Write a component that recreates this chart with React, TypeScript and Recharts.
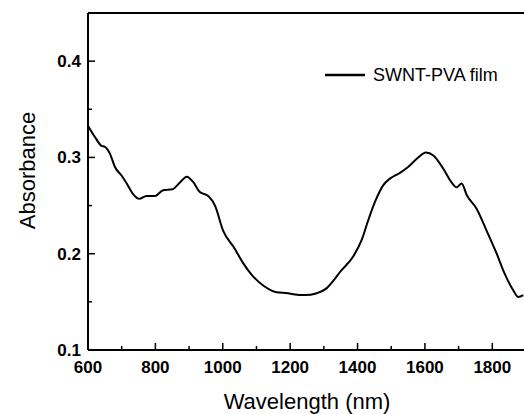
import React from 'react';
import { LineChart, Line, XAxis, YAxis, ReferenceLine } from 'recharts';

const wavelengths = [600,621,640,650,665,680,700,715,734,752,774,799,823,851,873,893,913,932,957,977,1001,1036,1061,1086,1120,1160,1194,1209,1244,1279,1308,1333,1348,1387,1412,1432,1452,1476,1496,1526,1550,1580,1603,1625,1655,1679,1694,1709,1724,1753,1783,1813,1837,1862,1877,1892];
const absorbance = [0.333,0.321,0.312,0.311,0.304,0.290,0.281,0.273,0.262,0.257,0.260,0.260,0.266,0.267,0.274,0.280,0.274,0.264,0.260,0.250,0.224,0.205,0.190,0.178,0.167,0.160,0.159,0.158,0.157,0.159,0.164,0.174,0.181,0.197,0.214,0.235,0.254,0.271,0.278,0.284,0.290,0.300,0.305,0.302,0.288,0.274,0.269,0.273,0.261,0.247,0.224,0.200,0.179,0.162,0.155,0.157];

const xTicks = [600,700,800,900,1000,1100,1200,1300,1400,1500,1600,1700,1800,1900];
const xMajor = [600,800,1000,1200,1400,1600,1800];
const yTicks = [0.1,0.15,0.2,0.25,0.3,0.35,0.4,0.45];
const yMajorLabels = ['0.1','0.2','0.3','0.4'];
const seriesName = 'SWNT-PVA film';

const data = wavelengths.map((w, i) => ({ w, a: absorbance[i] }));

const FONT = '"Liberation Sans", Arial, sans-serif';

const XTick = (props: any) => {
  const { x, y, payload } = props;
  const major = xMajor.includes(payload.value);
  return (
    <g>
      <line x1={x} x2={x} y1={y} y2={y - (major ? 7 : 4)} stroke="#000" strokeWidth={1.5} />
      {major && (
        <text x={x} y={y + 22.5} textAnchor="middle" fontFamily={FONT} fontWeight="bold" fontSize={17} fill="#000">
          {payload.value}
        </text>
      )}
    </g>
  );
};

const YTick = (props: any) => {
  const { x, y, payload } = props;
  const label = (Math.round(payload.value * 100) / 100).toString();
  const major = yMajorLabels.includes(label);
  return (
    <g>
      <line x1={x} x2={x + (major ? 7 : 4)} y1={y} y2={y} stroke="#000" strokeWidth={1.5} />
      {major && (
        <text x={x - 7} y={y + 6} textAnchor="end" fontFamily={FONT} fontWeight="bold" fontSize={17} fill="#000">
          {label}
        </text>
      )}
    </g>
  );
};

const XTitle = (props: any) => {
  const vb = props.viewBox;
  return (
    <text x={vb.x + vb.width / 2} y={vb.y + 58.5} textAnchor="middle" fontFamily={FONT} fontSize={22} fill="#000">
      Wavelength (nm)
    </text>
  );
};

const YTitle = (props: any) => {
  const vb = props.viewBox;
  const cx = 27;
  const cy = vb.y + vb.height / 2 - 11;
  return (
    <text x={cx} y={cy} transform={`rotate(-90, ${cx}, ${cy})`} textAnchor="middle" fontFamily={FONT} fontSize={22} fill="#000">
      Absorbance
    </text>
  );
};

export default function App() {
  return (
    <div
      style={{
        width: 524,
        height: 414,
        paddingLeft: 8,
        paddingTop: 8,
        boxSizing: 'border-box',
        overflow: 'hidden',
        position: 'relative',
        background: '#fff',
      }}
    >
      <style>{'body{margin:0}'}</style>
      <LineChart width={520} height={406} data={data} margin={{ top: 5, right: 2, bottom: 4, left: 0 }}>
        <XAxis
          dataKey="w"
          type="number"
          domain={[600, 1900]}
          ticks={xTicks}
          interval={0}
          allowDataOverflow
          height={60}
          tickSize={0}
          tickMargin={0}
          tick={<XTick />}
          axisLine={{ stroke: '#000', strokeWidth: 2 }}
          tickLine={false}
          label={<XTitle />}
        />
        <YAxis
          type="number"
          domain={[0.1, 0.45]}
          ticks={yTicks}
          interval={0}
          allowDataOverflow
          width={80}
          tickSize={0}
          tickMargin={0}
          tick={<YTick />}
          axisLine={{ stroke: '#000', strokeWidth: 2 }}
          tickLine={false}
          label={<YTitle />}
        />
        <ReferenceLine y={0.45} stroke="#000" strokeWidth={2} ifOverflow="visible" />
        <Line
          type="monotone"
          dataKey="a"
          stroke="#000"
          strokeWidth={2}
          dot={false}
          isAnimationActive={false}
          name={seriesName}
        />
      </LineChart>
      <div style={{ position: 'absolute', left: 325, top: 63, width: 200, height: 24, pointerEvents: 'none' }}>
        <svg width={200} height={24} style={{ display: 'block' }}>
          <line x1={0} x2={40} y1={12} y2={12} stroke="#000" strokeWidth={2.5} />
          <text x={48} y={18} fontFamily={FONT} fontSize={18} fill="#000">{seriesName}</text>
        </svg>
      </div>
    </div>
  );
}
